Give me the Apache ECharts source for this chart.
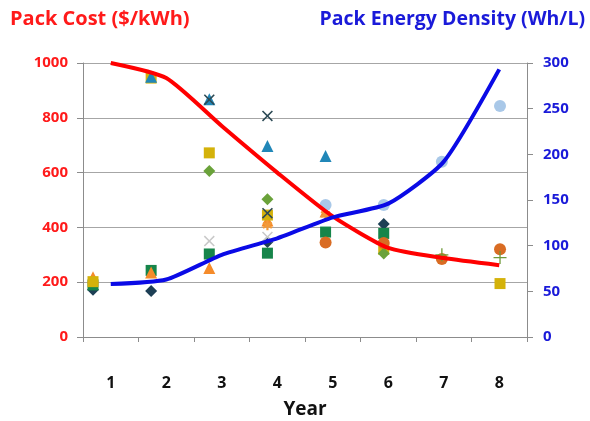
<!DOCTYPE html>
<html>
<head>
<meta charset="utf-8">
<script src="https://cdn.jsdelivr.net/npm/echarts@6/dist/echarts.min.js"></script>
<style>html,body{margin:0;padding:0;background:#fff}#c{width:590px;height:421px}</style>
</head>
<body>
<div id="c"></div>
<script>
// ---- data ----
const years = ['1', '2', '3', '4', '5', '6', '7', '8'];
const packCost = [1000, 945, 770, 600, 440, 325, 288, 262];          // $/kWh, left axis
const energyDensity = [58, 63, 90, 108, 131, 146, 192, 293];         // Wh/L, right axis
const costTicks = [0, 200, 400, 600, 800, 1000];
const densityTicks = [0, 50, 100, 150, 200, 250, 300];

// scatter observations [year, $/kWh]
const navyDiamond = [[1, 172], [2, 168], [4, 347], [6, 412]];
const greenSquare = [[1, 190], [2, 243], [3, 303], [4, 306], [5, 383], [6, 378]];
const orangeTriangle = [[1, 218], [2, 235], [3, 252], [4, 425], [5, 458]];
const goldSquare = [[1, 202], [2, 945], [3, 672], [4, 445], [6, 320], [8, 195]];
const tealTriangle = [[2, 950], [3, 868], [4, 697], [5, 661]];
const darkCross = [[3, 866], [4, 807], [4, 452]];
const greenDiamond = [[3, 606], [4, 503], [6, 305]];
const lightCross = [[3, 350], [4, 365]];
const orangeCircle = [[5, 345], [6, 343], [7, 285], [8, 320]];
const lightBlueCircle = [[5, 482], [6, 482], [7, 640], [8, 843]];
const orangeStar = [[4, 408], [5, 448]];
const greenPlus = [[7, 300], [8, 290]];

const X_PATH = 'path://M0,1L1,0L5,4L9,0L10,1L6,5L10,9L9,10L5,6L1,10L0,9L4,5Z';
const PLUS_PATH = 'path://M4.5,0H5.5V4.5H10V5.5H5.5V10H4.5V5.5H0V4.5H4.5Z';
const STAR_PATH = 'path://M4,0H6V3L8.5,1.5L9.5,3.2L7,5L9.5,6.8L8.5,8.5L6,7V10H4V7L1.5,8.5L0.5,6.8L3,5L0.5,3.2L1.5,1.5L4,3Z';

function sc(name, data, symbol, color, size) {
  return {
    name, type: 'scatter', xAxisIndex: 1, yAxisIndex: 0, data,
    symbol, symbolSize: size || 11, itemStyle: { color, opacity: 1 }, z: 3,
    silent: true
  };
}

const chart = echarts.init(document.getElementById('c'), null, { renderer: 'canvas' });
const FONT = 'Open Sans';
chart.setOption({
  animation: false,
  backgroundColor: '#ffffff',
  title: [
    { text: 'Pack Cost ($/kWh)', left: 5, top: 4,
      textStyle: { color: '#ff1a1a', fontWeight: 'bold', fontSize: 20, fontFamily: FONT } },
    { text: 'Pack Energy Density (Wh/L)', right: 0, top: 4,
      textStyle: { color: '#1a1ad9', fontWeight: 'bold', fontSize: 19.5, fontFamily: FONT } }
  ],
  grid: { left: 83, right: 63, top: 63, bottom: 84, containLabel: false, outerBoundsMode: 'none' },
  xAxis: [
    {
      type: 'category', data: years, boundaryGap: true,
      name: 'Year', nameLocation: 'middle', nameGap: 63,
      nameTextStyle: { color: '#111', fontWeight: 'bold', fontSize: 19, fontFamily: FONT },
      axisLine: { lineStyle: { color: '#8c8c8c', width: 1 } },
      axisTick: { show: true, alignWithLabel: false, length: 5, lineStyle: { color: '#8c8c8c' } },
      axisLabel: { color: '#111', fontWeight: 'bold', fontSize: 16, fontFamily: FONT, margin: 38 },
      splitLine: { show: false }
    },
    { type: 'value', min: 0.828, max: 8.464, show: false }
  ],
  yAxis: [
    {
      type: 'value', min: costTicks[0], max: costTicks[costTicks.length - 1], interval: 200,
      position: 'left',
      axisLine: { show: true, lineStyle: { color: '#8c8c8c' } },
      axisTick: { show: true, length: 6, lineStyle: { color: '#8c8c8c' } },
      axisLabel: { color: '#ff1a1a', fontWeight: 'bold', fontSize: 15, fontFamily: FONT, margin: 15,
        formatter: v => String(v) },
      splitLine: { show: true, lineStyle: { color: '#a6a6a6', width: 1 } }
    },
    {
      type: 'value', min: densityTicks[0], max: densityTicks[densityTicks.length - 1], interval: 50,
      position: 'right',
      axisLine: { show: true, lineStyle: { color: '#8c8c8c' } },
      axisTick: { show: true, length: 6, lineStyle: { color: '#8c8c8c' } },
      axisLabel: { color: '#1a1ad9', fontWeight: 'bold', fontSize: 15, fontFamily: FONT, margin: 16 },
      splitLine: { show: false }
    }
  ],
  series: [
    sc('navyDiamond', navyDiamond, 'diamond', '#1d3f55', 12),
    sc('greenSquare', greenSquare, 'rect', '#16854a', 11),
    sc('orangeTriangle', orangeTriangle, 'triangle', '#f58b2a', 12),
    sc('goldSquare', goldSquare, 'rect', '#d4b20a', 11),
    sc('tealTriangle', tealTriangle, 'triangle', '#2187b8', 12),
    sc('darkCross', darkCross, X_PATH, '#2c4a55', 11),
    sc('greenDiamond', greenDiamond, 'diamond', '#6aa23a', 12),
    sc('lightCross', lightCross, X_PATH, '#c9c9c9', 11),
    sc('orangeCircle', orangeCircle, 'circle', '#d96c23', 12),
    sc('orangeStar', orangeStar, STAR_PATH, '#f29a3a', 10),
    sc('lightBlueCircle', lightBlueCircle, 'circle', '#a9c8e8', 12),
    sc('greenPlus', greenPlus, PLUS_PATH, '#6f9a3a', 13),
    {
      name: 'Pack Cost', type: 'line', xAxisIndex: 0, yAxisIndex: 0, data: packCost,
      smooth: 0.2, showSymbol: false, symbol: 'none', z: 5,
      lineStyle: { color: '#ff0000', width: 4 }
    },
    {
      name: 'Pack Energy Density', type: 'line', xAxisIndex: 0, yAxisIndex: 1, data: energyDensity,
      smooth: 0.2, showSymbol: false, symbol: 'none', z: 5,
      lineStyle: { color: '#0a0ae6', width: 4 }
    }
  ]
});
</script>
</body>
</html>
